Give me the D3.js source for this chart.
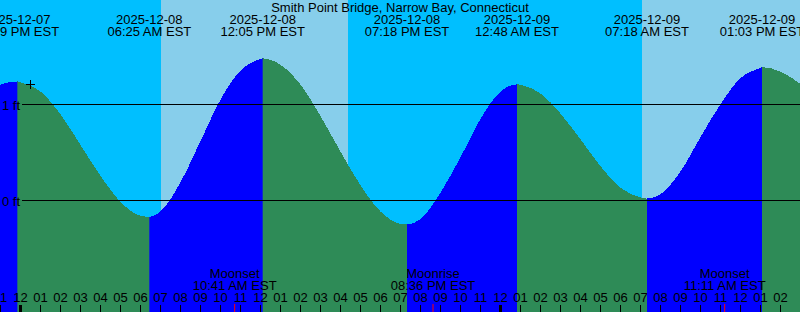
<!DOCTYPE html>
<html>
<head>
<meta charset="utf-8">
<script src="https://cdn.jsdelivr.net/npm/d3@7"></script>
<style>
	html, body { margin: 0; padding: 0; background: #00bfff; }
	svg { display: block; font-family: "Liberation Sans", Arial, sans-serif; font-size: 13px; }
</style>
</head>
<body>
<svg id="chart" width="800" height="312"></svg>
<script>
const stationName = "Smith Point Bridge, Narrow Bay, Connecticut";

// high and low tides (EST wall clock)
const tideTimes = ["2025-12-07 23:49", "2025-12-08 06:25", "2025-12-08 12:05", "2025-12-08 19:18",
	"2025-12-09 00:48", "2025-12-09 07:18", "2025-12-09 13:03"];
const tideKinds = ["high", "low", "high", "low", "high", "low", "high"];
const tideLevels = [1.24, -0.17, 1.48, -0.25, 1.21, 0.02, 1.39];

// water level in ft, read every hour from 2025-12-07 22:00 to 2025-12-09 16:00
const hourlyLevels = [1.08, 1.21, 1.23, 1.13, 0.89, 0.57, 0.25, -0.02, -0.16, -0.11,
	0.20, 0.63, 1.06, 1.36, 1.475, 1.41, 1.20, 0.87, 0.50, 0.15,
	-0.12, -0.245, -0.19, 0.09, 0.46, 0.86, 1.14, 1.205, 1.11, 0.90,
	0.63, 0.35, 0.13, 0.03, 0.07, 0.31, 0.67, 1.01, 1.28, 1.385,
	1.34, 1.21, 1.05];

const sunrises = ["2025-12-08 07:00", "2025-12-09 07:03"];
const sunsets = ["2025-12-08 16:21", "2025-12-09 16:21"];

const moonTimes = ["2025-12-08 10:41", "2025-12-08 20:36", "2025-12-09 11:11"];
const moonEvents = ["Moonset", "Moonrise", "Moonset"];

const datumLevels = [0, 1];
const markTime = "2025-12-08 00:28";
const markLevel = 1.21;

const colors = {night: "#00bfff", day: "#87ceeb", rising: "#0000ff", falling: "#2e8b57"};

const parse = d3.utcParse("%Y-%m-%d %H:%M");
const width = 800, height = 312;

const svg = d3.select("#chart");

const x = d3.scaleUtc()
	.domain([parse("2025-12-07 22:57"), parse("2025-12-09 14:57")])
	.range([0, width]);

const y = d3.scaleLinear()
	.domain([0, 1])
	.range([200.5, 104.5]);

// sky
svg.append("rect")
	.attr("width", width)
	.attr("height", height)
	.attr("fill", colors.night);

svg.append("g")
	.selectAll("rect")
	.data(sunrises.map((s, i) => [parse(s), parse(sunsets[i])]))
	.join("rect")
	.attr("x", d => x(d[0]))
	.attr("width", d => x(d[1]) - x(d[0]))
	.attr("height", height)
	.attr("fill", colors.day)
	.attr("shape-rendering", "crispEdges");

// water
const hours = d3.utcHour.range(parse("2025-12-07 22:00"), parse("2025-12-09 17:00"));
const tides = tideTimes.map((t, i) => ({t: parse(t), v: tideLevels[i], kind: tideKinds[i]}));
const points = hours.map((t, i) => ({t: t, v: hourlyLevels[i]}))
	.concat(tides)
	.sort((a, b) => a.t - b.t);

const area = d3.area()
	.x(d => x(d.t))
	.y0(height)
	.y1(d => y(d.v))
	.curve(d3.curveMonotoneX);

// rising stretches run from a low (or the left edge) to the next high
const rising = [];
if (tides[0].kind == "high")
	rising.push([0, x(tides[0].t)]);
tides.forEach((d, i) => {
	if (d.kind == "low")
		rising.push([x(d.t), i + 1 < tides.length ? x(tides[i + 1].t) : width]);
});

svg.append("clipPath")
	.attr("id", "rising-clip")
	.selectAll("rect")
	.data(rising)
	.join("rect")
	.attr("x", d => d[0])
	.attr("width", d => d[1] - d[0])
	.attr("height", height);

svg.append("path")
	.datum(points)
	.attr("d", area)
	.attr("fill", colors.falling)
	.attr("shape-rendering", "crispEdges");

svg.append("path")
	.datum(points)
	.attr("d", area)
	.attr("fill", colors.rising)
	.attr("clip-path", "url(#rising-clip)")
	.attr("shape-rendering", "crispEdges");

// datum lines
const datum = svg.append("g");
datum.selectAll("line")
	.data(datumLevels)
	.join("line")
	.attr("x1", 22)
	.attr("x2", width)
	.attr("y1", d => y(d))
	.attr("y2", d => y(d))
	.attr("stroke", "#000");
datum.selectAll("text")
	.data(datumLevels)
	.join("text")
	.attr("x", 20)
	.attr("y", d => y(d) + 5)
	.attr("text-anchor", "end")
	.text(d => `${d} ft`);

// "+" mark
const mx = x(parse(markTime)), my = y(markLevel);
svg.append("path")
	.attr("d", `M${mx - 4.5},${my}H${mx + 4.5}M${mx},${my - 4.5}V${my + 4.5}`)
	.attr("stroke", "#000")
	.attr("shape-rendering", "crispEdges");

// title and tide labels
svg.append("text")
	.attr("x", width / 2)
	.attr("y", 12)
	.attr("text-anchor", "middle")
	.text(stationName);

const fmtDate = d3.utcFormat("%Y-%m-%d");
const fmtTime = d => d3.utcFormat("%I:%M %p")(d) + " EST";

const tideLabels = svg.append("g")
	.attr("text-anchor", "middle")
	.selectAll("g")
	.data(tides)
	.join("g")
	.attr("transform", d => `translate(${x(d.t)},0)`);
tideLabels.append("text").attr("y", 24).text(d => fmtDate(d.t));
tideLabels.append("text").attr("y", 36).text(d => fmtTime(d.t));

// moon events
const moon = svg.append("g")
	.attr("text-anchor", "middle")
	.selectAll("g")
	.data(moonTimes.map((t, i) => ({t: parse(t), name: moonEvents[i]})))
	.join("g")
	.attr("transform", d => `translate(${x(d.t)},0)`);
moon.append("text").attr("y", 278).text(d => d.name);
moon.append("text").attr("y", 290).text(d => fmtTime(d.t));
moon.append("line")
	.attr("y1", 304)
	.attr("y2", height)
	.attr("stroke", "red");

// hour axis along the bottom
const xAxis = d3.axisTop(x)
	.ticks(d3.utcHour.every(1))
	.tickFormat(d3.utcFormat("%I"))
	.tickSize(7)
	.offset(-0.5);

const axisG = svg.append("g")
	.attr("transform", `translate(0,${height})`)
	.call(xAxis)
	.attr("font-size", null)
	.attr("font-family", null);
axisG.select(".domain").remove();
axisG.selectAll(".tick line")
	.attr("stroke", "#000")
	.attr("stroke-width", d => d.getUTCHours() == 0 ? 3 : 1);
axisG.selectAll(".tick text")
	.attr("fill", "#000");
</script>
</body>
</html>
